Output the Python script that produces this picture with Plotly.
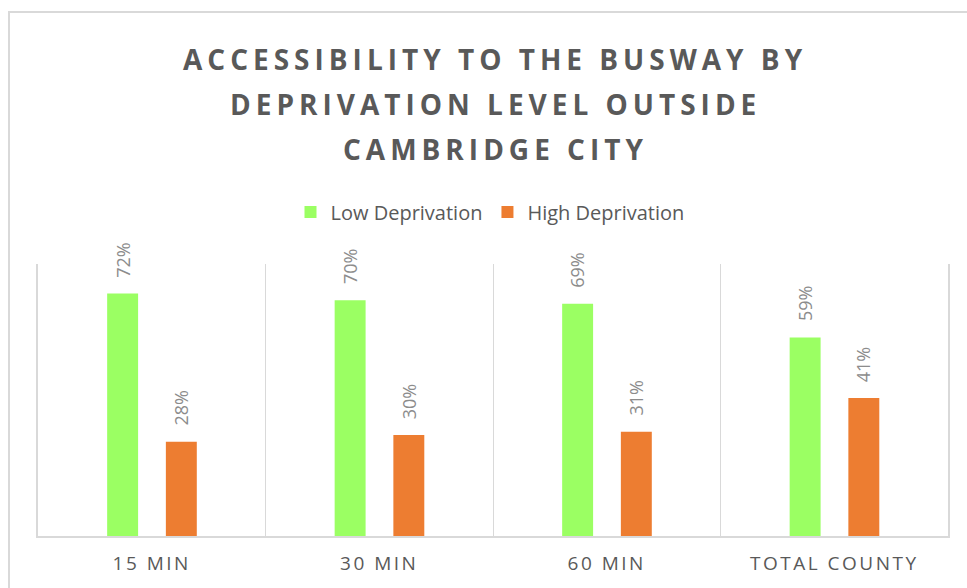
import plotly.graph_objects as go

categories = ["15 MIN", "30 MIN", "60 MIN", "TOTAL COUNTY"]
low_deprivation = [72, 70, 69, 59]
high_deprivation = [28, 30, 31, 41]
series_names = ["Low Deprivation", "High Deprivation"]
title_lines = ["ACCESSIBILITY TO THE BUSWAY BY", "DEPRIVATION LEVEL OUTSIDE", "CAMBRIDGE CITY"]

GREEN = "#9BFF63"
ORANGE = "#ED7D31"
GRID = "#D9D9D9"

W, H = 967, 588
L, R, T, B = 38, 19, 264, 52
pw, ph = W - L - R, H - T - B

bar_w = 0.136
low_center = -0.128
high_center = 0.13

fig = go.Figure()
fig.add_trace(go.Bar(
    x=categories, y=low_deprivation, name=series_names[0],
    marker=dict(color=GREEN, line=dict(width=0)),
    width=bar_w, offset=low_center - bar_w / 2,
))
fig.add_trace(go.Bar(
    x=categories, y=high_deprivation, name=series_names[1],
    marker=dict(color=ORANGE, line=dict(width=0)),
    width=bar_w, offset=high_center - bar_w / 2,
))

annotations = []
for i, (lo, hi) in enumerate(zip(low_deprivation, high_deprivation)):
    for val, c in ((lo, low_center), (hi, high_center)):
        annotations.append(dict(
            x=i + c, y=val, xref="x", yref="y", text=f"{val}%",
            showarrow=False, textangle=-90, yanchor="bottom", yshift=14,
            font=dict(family="Open Sans", size=18, color="#8C8C8C"),
        ))

title_y = [59, 104, 149]
for line, py in zip(title_lines, title_y):
    annotations.append(dict(
        x=0.5 + (495 - (L + pw / 2)) / pw, y=(H - B - py) / ph, xref="paper", yref="paper",
        text=f'<span style="letter-spacing:5px">{line}</span>', showarrow=False,
        xanchor="center", yanchor="middle",
        font=dict(family="Open Sans", size=28, color="#595959", weight=700),
    ))

fig.update_layout(
    width=W, height=H,
    margin=dict(l=L, r=R, t=T, b=B, autoexpand=False),
    paper_bgcolor="white", plot_bgcolor="white",
    barmode="overlay",
    showlegend=True,
    legend=dict(
        orientation="h", x=0.5 + (490 - (L + pw / 2)) / pw, xanchor="center",
        y=(H - B - 212) / ph, yanchor="middle",
        font=dict(family="Open Sans", size=20, color="#595959"),
        itemwidth=30, traceorder="normal",
    ),
    annotations=annotations,
    xaxis=dict(
        type="category", tickson="boundaries", showgrid=True, gridcolor=GRID, gridwidth=1,
        showline=True, linecolor=GRID, linewidth=1.5, ticks="", ticklen=0,
        tickvals=categories,
        ticktext=[f'<span style="letter-spacing:2.5px">{c}</span>' for c in categories],
        tickfont=dict(family="Open Sans", size=19, color="#595959"),
        ticklabelstandoff=9, automargin=False,
        range=[-0.5, 3.5], fixedrange=True,
    ),
    yaxis=dict(
        range=[0, 80.8], showgrid=False, showticklabels=False, zeroline=False,
        showline=True, linecolor=GRID, linewidth=1.5, mirror=True, ticks="",
        fixedrange=True, automargin=False,
    ),
    shapes=[dict(
        type="rect", xref="paper", yref="paper",
        x0=(9 - L) / pw, x1=(980 - L) / pw,
        y0=(H - B - 600) / ph, y1=(H - B - 12) / ph,
        line=dict(color=GRID, width=2), fillcolor="rgba(0,0,0,0)", layer="below",
    )],
)

fig.write_html("out.html")
